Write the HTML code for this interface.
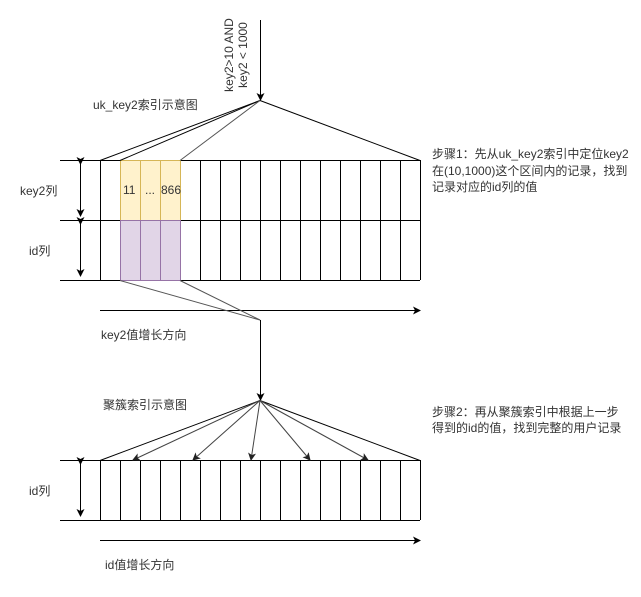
<!DOCTYPE html>
<html><head><meta charset="utf-8"><style>
html,body{margin:0;padding:0;background:#fff;}
svg text{font-family:"Liberation Sans","Noto Sans CJK SC",sans-serif;font-size:12px;fill:#333;}
</style></head><body>
<svg width="641" height="592" viewBox="0 0 641 592" xmlns="http://www.w3.org/2000/svg">
<defs>
<marker id="a" markerWidth="8" markerHeight="8" refX="7" refY="4" orient="auto" markerUnits="userSpaceOnUse"><path d="M0,0 L8,4 L0,8 L2,4 Z" fill="#000"/></marker>
<marker id="g" markerWidth="8" markerHeight="8" refX="7" refY="4" orient="auto" markerUnits="userSpaceOnUse"><path d="M0,0 L8,4 L0,8 L2,4 Z" fill="#222"/></marker>
</defs>
<!-- highlighted cells -->
<rect x="120" y="160" width="60" height="60" fill="#fff2cc"/>
<rect x="120" y="220" width="60" height="60" fill="#e1d5e7"/>
<g stroke="#000" stroke-width="1" fill="none">
<line x1="60" y1="160.5" x2="420" y2="160.5"/>
<line x1="60" y1="220.5" x2="420" y2="220.5"/>
<line x1="60" y1="280.5" x2="420" y2="280.5"/>
<path d="M100.5 160V280M180.5 160V280M200.5 160V280M220.5 160V280M240.5 160V280M260.5 160V280M280.5 160V280M300.5 160V280M320.5 160V280M340.5 160V280M360.5 160V280M380.5 160V280M400.5 160V280M420.5 160V280"/>
<line x1="60" y1="460.5" x2="420" y2="460.5"/>
<line x1="60" y1="520.5" x2="420" y2="520.5"/>
<path d="M100.5 460V520M120.5 460V520M140.5 460V520M160.5 460V520M180.5 460V520M200.5 460V520M220.5 460V520M240.5 460V520M260.5 460V520M280.5 460V520M300.5 460V520M320.5 460V520M340.5 460V520M360.5 460V520M380.5 460V520M400.5 460V520M420.5 460V520"/>
</g>
<g stroke="#d6b656" fill="none"><rect x="120.5" y="160.5" width="60" height="60"/><path d="M140.5 160V220M160.5 160V220"/></g>
<g stroke="#9673a6" fill="none"><rect x="120.5" y="220.5" width="60" height="60"/><path d="M140.5 220V280M160.5 220V280"/></g>
<text x="123" y="194">11</text><text x="145" y="194">...</text><text x="161" y="194">866</text>
<!-- double arrows -->
<g stroke="#000" fill="none">
<line x1="80.5" y1="164" x2="80.5" y2="216" marker-start="url(#a)" marker-end="url(#a)"/>
<line x1="80.5" y1="224" x2="80.5" y2="276" marker-start="url(#a)" marker-end="url(#a)"/>
<line x1="80.5" y1="464" x2="80.5" y2="516" marker-start="url(#a)" marker-end="url(#a)"/>
<line x1="260.5" y1="20" x2="260.5" y2="100" marker-end="url(#a)"/>
<line x1="260" y1="100.5" x2="100" y2="160.5"/>
<line x1="260" y1="100.5" x2="120" y2="160.5"/>
<line x1="260" y1="100.5" x2="420" y2="160.5"/>
<line x1="100" y1="310.5" x2="420" y2="310.5" marker-end="url(#a)"/>
<line x1="260.5" y1="320" x2="260.5" y2="400" marker-end="url(#a)"/>
<line x1="260" y1="400.5" x2="100" y2="460.5"/>
<line x1="260" y1="400.5" x2="420" y2="460.5"/>
<line x1="100" y1="540.5" x2="420" y2="540.5" marker-end="url(#a)"/>
</g>
<g stroke="#555" fill="none">
<line x1="260" y1="100.5" x2="180" y2="160.5"/>
<line x1="120" y1="280.5" x2="260" y2="320"/>
<line x1="180" y1="280.5" x2="260" y2="320"/>
</g>
<g stroke="#444" fill="none">
<line x1="260" y1="400.5" x2="133" y2="460" marker-end="url(#g)"/>
<line x1="260" y1="400.5" x2="193" y2="460" marker-end="url(#g)"/>
<line x1="260" y1="400.5" x2="251" y2="460" marker-end="url(#g)"/>
<line x1="260" y1="400.5" x2="310" y2="460" marker-end="url(#g)"/>
<line x1="260" y1="400.5" x2="368" y2="460" marker-end="url(#g)"/>
</g>
<text transform="translate(233,55) rotate(-90)" text-anchor="middle">key2&gt;10 AND</text>
<text transform="translate(247,55) rotate(-90)" text-anchor="middle">key2 &lt; 1000</text>
<text x="93" y="109">uk_key2索引示意图</text>
<text x="20" y="195">key2列</text>
<text x="29" y="255">id列</text>
<text x="101" y="339">key2值增长方向</text>
<text x="103" y="409">聚簇索引示意图</text>
<text x="29" y="495">id列</text>
<text x="105" y="569">id值增长方向</text>
<text x="432" y="158">步骤1：先从uk_key2索引中定位key2</text>
<text x="432" y="175">在(10,1000)这个区间内的记录，找到</text>
<text x="432" y="191">记录对应的id列的值</text>
<text x="432" y="416">步骤2：再从聚簇索引中根据上一步</text>
<text x="432" y="432">得到的id的值，找到完整的用户记录</text>
</svg>
</body></html>
